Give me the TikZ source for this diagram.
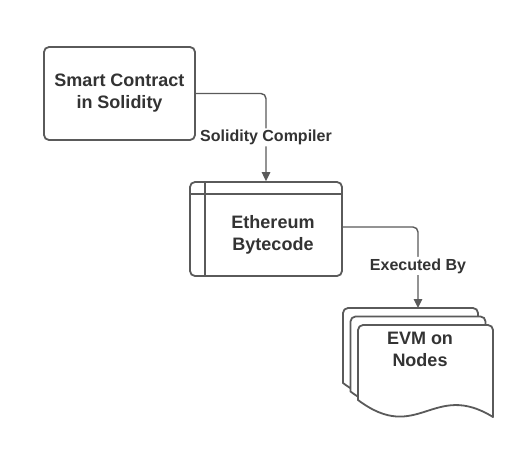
\documentclass[tikz,border=0pt]{standalone}
\usepackage{fontspec}
\setmainfont{Liberation Sans}
\usetikzlibrary{arrows.meta}
\definecolor{linegray}{HTML}{5A5A5A}
\definecolor{textgray}{HTML}{333333}
\newcommand\docsheet[2]{%
  \draw[sheetline] (#1,#2+75) [rounded corners=5] -- (#1,#2) -- (#1+135,#2) [sharp corners] -- (#1+135,#2+92)
    .. controls (#1+75,#2+55) and (#1+60,#2+120) .. cycle;}
\begin{document}
\begin{tikzpicture}[x=1pt,y=-1pt,
  boxline/.style={draw=linegray,line width=1.8pt},
  sheetline/.style={draw=linegray,line width=1.8pt,fill=white,line join=round},
  boxstyle/.style={boxline,rounded corners=5,fill=white,minimum width=151pt,minimum height=93pt,inner sep=0pt},
  boxtext/.style={text=textgray,font=\bfseries\fontsize{18}{22}\selectfont,align=center,inner sep=0pt},
  conn/.style={draw=linegray,line width=1.4pt,rounded corners=5,-{Triangle[length=9pt,width=8.5pt]}},
  lbl/.style={fill=white,text=textgray,font=\bfseries\fontsize{16}{19}\selectfont,inner sep=1.5pt}]
\useasboundingbox[fill=white] (0,0) rectangle (524,452);
% box 1
\node[boxstyle,boxtext,inner sep=0pt] (smart) at (119.5,93.5) {Smart Contract\\in Solidity};
% box 2
\node[boxstyle,minimum width=152pt,minimum height=94pt] (bytecode) at (266,229) {};
\draw[boxline] ([xshift=16pt]bytecode.north west) -- ([xshift=16pt]bytecode.south west);
\draw[boxline] ([yshift=-13pt]bytecode.north west) -- ([yshift=-13pt]bytecode.north east);
\node[boxtext] (bytetext) at (273,234.5) {Ethereum\\Bytecode};
% document stack
\docsheet{343}{308}
\docsheet{350.5}{316.5}
\docsheet{358}{325}
\coordinate (stacktop) at (418,308);
\node[boxtext] (evm) at (420,349.5) {EVM on\\Nodes};
% connectors
\draw[conn] (smart.east) -| node[lbl,pos=0.75] (lab1) {Solidity Compiler} (bytecode.north);
\draw[conn] ([yshift=2pt]bytecode.east) -| node[lbl,pos=0.74] (lab2) {Executed By} (stacktop);
\end{tikzpicture}
\end{document}
